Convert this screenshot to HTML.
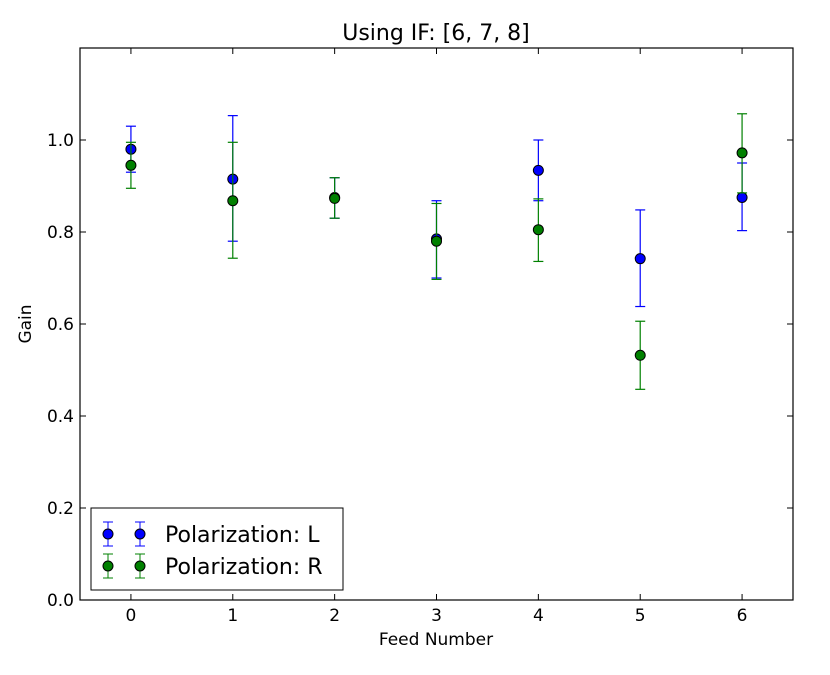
<!DOCTYPE html>
<html><head><meta charset="utf-8"><style>
body{margin:0;background:#fff;}
svg text{font-family:"DejaVu Sans","Liberation Sans",sans-serif;}
</style></head><body>
<svg id="chart" width="830" height="670" xmlns="http://www.w3.org/2000/svg">
<rect width="830" height="670" fill="#fff"/>
<text x="436" y="40" font-size="22" text-anchor="middle">Using IF: [6, 7, 8]</text>
<g id="marks"></g>
<rect x="80" y="48" width="713" height="552" fill="none" stroke="#000" stroke-width="1.2"/>
<g id="axes"></g>
<text x="436" y="645" font-size="17" text-anchor="middle">Feed Number</text>
<text x="31" y="324" font-size="17" text-anchor="middle" transform="rotate(-90 31 324)">Gain</text>
<g>
<rect x="91" y="508" width="252" height="82" fill="#fff" stroke="#000" stroke-width="1"/>
<g>
<line x1="108" y1="522" x2="108" y2="546" stroke="#0000ff"/><line x1="103" y1="522" x2="113" y2="522" stroke="#0000ff"/><line x1="103" y1="546" x2="113" y2="546" stroke="#0000ff"/>
<circle cx="108" cy="534" r="5" fill="#0000ff" stroke="#000"/>
<line x1="140" y1="522" x2="140" y2="546" stroke="#0000ff"/><line x1="135" y1="522" x2="145" y2="522" stroke="#0000ff"/><line x1="135" y1="546" x2="145" y2="546" stroke="#0000ff"/>
<circle cx="140" cy="534" r="5" fill="#0000ff" stroke="#000"/>
<text x="165" y="542" font-size="22">Polarization: L</text></g>
<g>
<line x1="108" y1="554" x2="108" y2="578" stroke="#008000"/><line x1="103" y1="554" x2="113" y2="554" stroke="#008000"/><line x1="103" y1="578" x2="113" y2="578" stroke="#008000"/>
<circle cx="108" cy="566" r="5" fill="#008000" stroke="#000"/>
<line x1="140" y1="554" x2="140" y2="578" stroke="#008000"/><line x1="135" y1="554" x2="145" y2="554" stroke="#008000"/><line x1="135" y1="578" x2="145" y2="578" stroke="#008000"/>
<circle cx="140" cy="566" r="5" fill="#008000" stroke="#000"/>
<text x="165" y="574" font-size="22">Polarization: R</text></g>
</g>
</svg>
<script>
const feeds=[0,1,2,3,4,5,6];
const gainL=[0.98,0.915,0.875,0.785,0.934,0.742,0.875];
const errLTop=[1.03,1.053,0.918,0.868,1.0,0.848,0.95];
const errLBot=[0.93,0.78,0.83,0.70,0.868,0.638,0.803];
const gainR=[0.945,0.868,0.873,0.78,0.805,0.532,0.972];
const errRTop=[0.995,0.995,0.918,0.862,0.872,0.606,1.057];
const errRBot=[0.895,0.743,0.83,0.697,0.736,0.458,0.885];
const yTicks=[0.0,0.2,0.4,0.6,0.8,1.0];
const NS="http://www.w3.org/2000/svg";
const X=v=>80+(v+0.5)*713/7;
const Y=v=>600-v*552/1.2;
function mk(t,a,p){const e=document.createElementNS(NS,t);for(const k in a)e.setAttribute(k,a[k]);p.appendChild(e);return e;}
const marks=document.getElementById('marks'),axes=document.getElementById('axes');
function series(vals,top,bot,col,nm){
 feeds.forEach((f,i)=>{
  const g=mk('g',{},marks);
  
  
  const x=X(f);
  mk('line',{x1:x,x2:x,y1:Y(top[i]),y2:Y(bot[i]),stroke:col,'stroke-width':1.2},g);
  mk('line',{x1:x-5,x2:x+5,y1:Y(top[i]),y2:Y(top[i]),stroke:col,'stroke-width':1.2},g);
  mk('line',{x1:x-5,x2:x+5,y1:Y(bot[i]),y2:Y(bot[i]),stroke:col,'stroke-width':1.2},g);
  mk('circle',{cx:x,cy:Y(vals[i]),r:5,fill:col,stroke:'#000'},g);
 });
}
series(gainL,errLTop,errLBot,'#0000ff','pol-l');
series(gainR,errRTop,errRBot,'#008000','pol-r');
feeds.forEach(f=>{
 const x=X(f);
 mk('line',{x1:x,x2:x,y1:600,y2:594,stroke:'#000'},axes);
 mk('line',{x1:x,x2:x,y1:48,y2:54,stroke:'#000'},axes);
 const t=mk('text',{x:x,y:621,'font-size':17,'text-anchor':'middle'},axes);
 t.textContent=f;
 
 
});
yTicks.forEach(v=>{
 const y=Y(v);
 mk('line',{x1:80,x2:86,y1:y,y2:y,stroke:'#000'},axes);
 mk('line',{x1:793,x2:787,y1:y,y2:y,stroke:'#000'},axes);
 const t=mk('text',{x:74,y:y+6,'font-size':17,'text-anchor':'end'},axes);
 t.textContent=v.toFixed(1);
 
 
});
</script>
</body></html>
